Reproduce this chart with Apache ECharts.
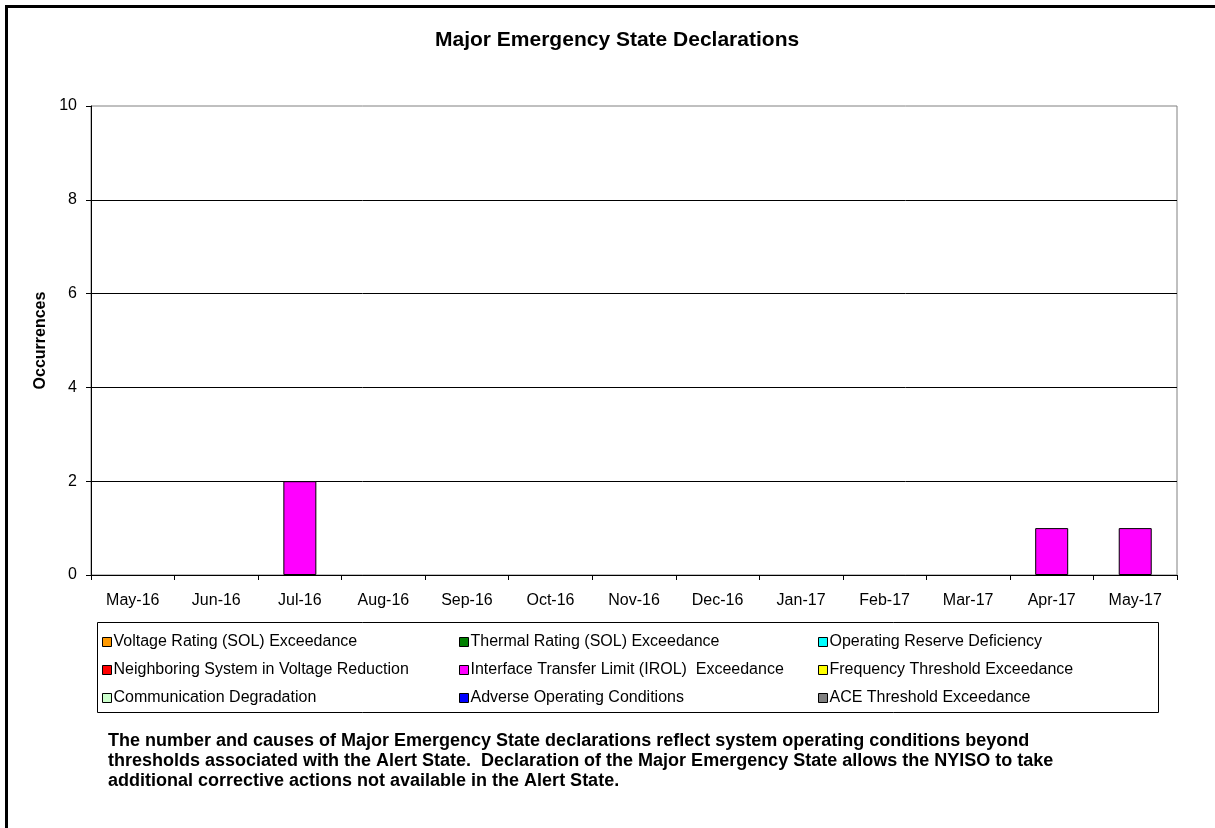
<!DOCTYPE html>
<html>
<head>
<meta charset="utf-8">
<script src="https://cdn.jsdelivr.net/npm/echarts@6/dist/echarts.min.js"></script>
<style>
html,body{margin:0;padding:0;background:#fff;overflow:hidden;}
#frame{position:absolute;left:5px;top:5px;width:1220px;height:830px;border:3px solid #000;box-sizing:border-box;}
#chart{position:absolute;left:0;top:0;width:1215px;height:828px;}
</style>
</head>
<body>
<div id="frame"></div>
<div id="chart"></div>
<script>
const months = ['May-16','Jun-16','Jul-16','Aug-16','Sep-16','Oct-16','Nov-16','Dec-16','Jan-17','Feb-17','Mar-17','Apr-17','May-17'];
const seriesNames = [
  'Voltage Rating (SOL) Exceedance',
  'Thermal Rating (SOL) Exceedance',
  'Operating Reserve Deficiency',
  'Neighboring System in Voltage Reduction',
  'Interface Transfer Limit (IROL)  Exceedance',
  'Frequency Threshold Exceedance',
  'Communication Degradation',
  'Adverse Operating Conditions',
  'ACE Threshold Exceedance'
];
const seriesColors = ['#FF9900','#008000','#00FFFF','#FF0000','#FF00FF','#FFFF00','#CCFFCC','#0000FF','#808080'];
const voltageSOL     = [0,0,0,0,0,0,0,0,0,0,0,0,0];
const thermalSOL     = [0,0,0,0,0,0,0,0,0,0,0,0,0];
const opReserve      = [0,0,0,0,0,0,0,0,0,0,0,0,0];
const neighborVR     = [0,0,0,0,0,0,0,0,0,0,0,0,0];
const interfaceIROL  = [0,0,2,0,0,0,0,0,0,0,0,1,1];
const frequency      = [0,0,0,0,0,0,0,0,0,0,0,0,0];
const commDegrade    = [0,0,0,0,0,0,0,0,0,0,0,0,0];
const adverseOps     = [0,0,0,0,0,0,0,0,0,0,0,0,0];
const aceThreshold   = [0,0,0,0,0,0,0,0,0,0,0,0,0];
const seriesData = [voltageSOL, thermalSOL, opReserve, neighborVR, interfaceIROL, frequency, commDegrade, adverseOps, aceThreshold];
const yTicks = [0,2,4,6,8,10];
const titleText = 'Major Emergency State Declarations';
const yAxisName = 'Occurrences';
const footnote = [
  'The number and causes of Major Emergency State declarations reflect system operating conditions beyond',
  'thresholds associated with the Alert State.  Declaration of the Major Emergency State allows the NYISO to take',
  'additional corrective actions not available in the Alert State.'
];

const FONT = 'Liberation Sans, Arial, sans-serif';
const chart = echarts.init(document.getElementById('chart'));

const series = seriesNames.map((n, i) => ({
  name: n,
  type: 'bar',
  stack: 'total',
  barWidth: 33,
  data: seriesData[i].map(v => v === 0 ? null : v),
  itemStyle: { color: seriesColors[i], borderColor: '#000', borderWidth: 1 },
  emphasis: { disabled: true },
  animation: false
}));

function legendCol(left, names) {
  return {
    orient: 'vertical',
    left: left, top: 629,
    itemGap: 12,
    itemWidth: 9, itemHeight: 9,
    icon: 'rect',
    selectedMode: false,
    data: names,
    textStyle: { fontFamily: FONT, fontSize: 16, color: '#000', padding: [0,0,0,-3] },
    itemStyle: { borderColor: '#000', borderWidth: 1 }
  };
}

chart.setOption({
  animation: false,
  backgroundColor: 'transparent',
  title: {
    text: titleText, left: 430, top: 25,
    textStyle: { fontFamily: FONT, fontSize: 21, fontWeight: 'bold', color: '#000' }
  },
  grid: {
    left: 91, right: 38, top: 106, bottom: 253,
    show: true, borderColor: '#808080', borderWidth: 1, backgroundColor: '#fff'
  },
  legend: [
    legendCol(97, [seriesNames[0], seriesNames[3], seriesNames[6]]),
    legendCol(454, [seriesNames[1], seriesNames[4], seriesNames[7]]),
    legendCol(813, [seriesNames[2], seriesNames[5], seriesNames[8]])
  ],
  xAxis: {
    type: 'category',
    data: months,
    axisLine: { lineStyle: { color: '#000', width: 1 } },
    axisTick: { show: true, length: 5, lineStyle: { color: '#000' } },
    axisLabel: { fontFamily: FONT, fontSize: 16, color: '#000', margin: 18, interval: 0 },
    splitLine: { show: false }
  },
  yAxis: {
    type: 'value',
    min: 0, max: 10, interval: 2,
    name: yAxisName,
    nameLocation: 'middle',
    nameGap: 42,
    nameTextStyle: { fontFamily: FONT, fontSize: 16, fontWeight: 'bold', color: '#000' },
    axisLine: { show: true, lineStyle: { color: '#000', width: 1 } },
    axisTick: { show: true, length: 5, lineStyle: { color: '#000' } },
    axisLabel: { fontFamily: FONT, fontSize: 16, color: '#000', margin: 14 },
    splitLine: { show: true, showMaxLine: false, lineStyle: { color: '#000', width: 1 } }
  },
  graphic: [
    {
      type: 'rect', left: 97, top: 622, z: -1,
      shape: { width: 1061, height: 90 },
      style: { fill: '#fff', stroke: '#000', lineWidth: 1 }
    },
    {
      type: 'text', left: 108, top: 731,
      style: {
        text: footnote.join('\n'),
        font: 'bold 18px ' + FONT,
        lineHeight: 20,
        fill: '#000'
      }
    }
  ],
  series: series
});
</script>
</body>
</html>
